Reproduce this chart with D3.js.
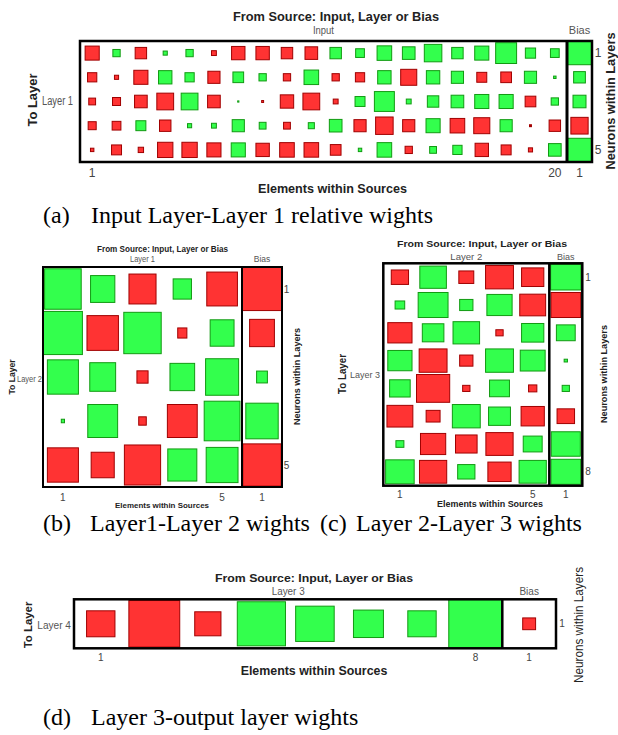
<!DOCTYPE html>
<html>
<head>
<meta charset="utf-8">
<script src="https://cdn.jsdelivr.net/npm/d3@7"></script>
<style>
  body { margin: 0; background: #fff; }
  svg { display: block; }
</style>
</head>
<body>
<svg id="fig" width="618" height="735"></svg>
<script>
// relative weights, sign: + green / - red, magnitude = fraction of cell
// (a) input -> layer 1 : 5 neurons x 20 inputs
const inputToLayer1 = [
  [-0.58, 0.30, -0.47, 0.17, 0.30, -0.20, -0.55, -0.55, -0.47, -0.52, 0.47, 0.36, 0.60, 0.52, 0.72, 0.47, 0.58, 0.86, 0.42, 0.36],
  [-0.38, -0.17, -0.58, 0.55, 0.38, -0.50, 0.44, 0.30, -0.30, 0.60, -0.30, -0.38, 0.55, -0.66, 0.55, 0.50, -0.41, -0.44, 0.50, 0.10],
  [-0.28, -0.33, -0.52, -0.69, 0.69, -0.52, 0.05, -0.08, -0.55, -0.69, -0.20, 0.41, 0.82, 0.20, 0.47, 0.52, 0.58, 0.58, -0.44, 0.30],
  [-0.33, -0.36, 0.41, -0.47, 0.17, 0.20, 0.50, 0.28, -0.28, 0.25, 0.52, -0.50, -0.72, -0.50, 0.58, -0.60, -0.66, 0.50, -0.08, -0.47],
  [-0.14, -0.41, -0.22, -0.63, -0.63, -0.58, 0.58, -0.55, -0.60, -0.60, -0.44, 0.14, 0.60, -0.30, 0.28, 0.38, -0.55, -0.41, -0.17, 0.52]
];
const biasLayer1 = [0.96, 0.47, 0.52, -0.69, 0.96];

// (b) layer 1 -> layer 2 : 5 x 5
const layer1ToLayer2 = [
  [0.92, 0.61, -0.68, 0.46, -0.77],
  [0.98, -0.79, 0.94, -0.23, 0.60],
  [0.78, 0.65, -0.28, 0.62, 0.83],
  [0.08, 0.75, -0.19, -0.75, 0.90],
  [-0.78, -0.58, -0.91, 0.73, 0.80]
];
const biasLayer2 = [-0.98, -0.62, 0.27, 0.81, -0.96];

// (c) layer 2 -> layer 3 : 8 x 5
const layer2ToLayer3 = [
  [-0.52, 0.80, -0.45, -0.84, -0.67],
  [0.29, 0.90, 0.40, 0.76, -0.78],
  [-0.73, 0.65, 0.80, -0.22, 0.67],
  [0.73, -0.84, -0.40, 0.84, 0.75],
  [0.62, -1.00, -0.22, 0.60, -0.25],
  [-0.78, -0.42, 0.84, 0.66, -0.70],
  [0.24, -0.76, -0.65, -0.82, 0.57],
  [0.86, -0.82, 0.52, -0.70, 0.82]
];
const biasLayer3 = [0.92, -0.90, 0.57, 0.10, 0.22, -0.53, 0.88, 0.90];

// (d) layer 3 -> output : 1 x 8
const layer3ToLayer4 = [
  [-0.53, -0.95, -0.49, 0.90, 0.72, 0.56, 0.53, 1.00]
];
const biasLayer4 = [-0.24];

const sourceNames = ["Input", "Layer 1", "Layer 2", "Layer 3"];
const targetNames = ["Layer 1", "Layer 2", "Layer 3", "Layer 4"];
const captionTags = ["(a)", "(b)", "(c)", "(d)"];
const captionTexts = [
  "Input Layer-Layer 1 relative wights",
  "Layer1-Layer 2 wights",
  "Layer 2-Layer 3 wights",
  "Layer 3-output layer wights"
];

const RED = "#ff3333", RED_EDGE = "#a00000";
const GREEN = "#33ff4d", GREEN_EDGE = "#129a12";
const SANS = "'Liberation Sans', Arial, sans-serif";
const SERIF = "'Liberation Serif', 'Times New Roman', serif";

const svg = d3.select("#fig");

function label(g, s, x, y, o) {
  const t = g.append("text")
    .attr("x", x).attr("y", y)
    .attr("font-family", o.family || SANS)
    .attr("font-size", o.size)
    .attr("font-weight", o.bold ? "bold" : "normal")
    .attr("fill", o.fill || "#222")
    .attr("text-anchor", o.anchor || "middle")
    .text(s);
  if (o.len) t.attr("textLength", o.len).attr("lengthAdjust", "spacingAndGlyphs");
  if (o.rotate) t.attr("x", 0).attr("y", 0).attr("transform", `translate(${x},${y}) rotate(-90)`);
  return t;
}

function hinton(p) {
  const g = svg.append("g");
  const nRows = p.weights.length, nCols = p.weights[0].length;

  const x = d3.scaleBand().domain(d3.range(nCols)).range([p.left, p.split]);
  const xb = d3.scaleBand().domain([0]).range([p.split, p.right]);
  const y = d3.scaleBand().domain(d3.range(nRows)).range([p.top, p.bottom]);
  const w = d3.scaleLinear().domain([0, 1]).range([0, x.bandwidth()]);
  const wb = d3.scaleLinear().domain([0, 1]).range([0, xb.bandwidth()]);
  const h = d3.scaleLinear().domain([0, 1]).range([0, y.bandwidth()]);

  const cells = [];
  p.weights.forEach((row, r) => row.forEach((v, c) => {
    cells.push({cx: x(c) + x.bandwidth() / 2, cy: y(r) + y.bandwidth() / 2, w: w(Math.abs(v)), h: h(Math.abs(v)), v});
  }));
  p.bias.forEach((v, r) => {
    cells.push({cx: xb(0) + xb.bandwidth() / 2, cy: y(r) + y.bandwidth() / 2, w: wb(Math.abs(v)), h: h(Math.abs(v)), v});
  });

  g.selectAll("rect.cell")
    .data(cells)
    .enter()
    .append("rect")
    .attr("class", "cell")
    .attr("x", d => d.cx - d.w / 2)
    .attr("y", d => d.cy - d.h / 2)
    .attr("width", d => d.w)
    .attr("height", d => d.h)
    .attr("fill", d => d.v < 0 ? RED : GREEN)
    .attr("stroke", d => d.v < 0 ? RED_EDGE : GREEN_EDGE)
    .attr("stroke-width", 1);

  // frames
  g.append("rect")
    .attr("x", p.left).attr("y", p.top)
    .attr("width", p.right - p.left).attr("height", p.bottom - p.top)
    .attr("fill", "none").attr("stroke", "#000").attr("stroke-width", p.frame);
  g.append("line")
    .attr("x1", p.split).attr("x2", p.split)
    .attr("y1", p.top).attr("y2", p.bottom)
    .attr("stroke", "#000").attr("stroke-width", p.splitW);

  const t = p.text;
  label(g, "From Source: Input, Layer or Bias", t.title[0], t.title[1], {size: t.title[2], bold: true, len: t.title[3]});
  label(g, p.source, (p.left + p.split) / 2, t.srcY, {size: t.srcSize, fill: "#555", len: t.srcLen});
  label(g, "Bias", xb(0) + xb.bandwidth() / 2, t.srcY, {size: t.srcSize, fill: "#555"});
  label(g, "To Layer", t.to[0], t.to[1], {size: t.to[2], bold: true, len: t.to[3], rotate: true});
  label(g, p.target, t.tgt[0], t.tgt[1], {size: t.tgt[2], anchor: "end", fill: "#555", len: t.tgt[3]});
  label(g, "Neurons within Layers", t.neu[0], t.neu[1], {size: t.neu[2], bold: t.neu[4], len: t.neu[3], rotate: true});
  label(g, "Elements within Sources", t.el[0], t.el[1], {size: t.el[2], bold: true, len: t.el[3]});

  // row ticks: first and last neuron
  const rowTicks = nRows > 1 ? [0, nRows - 1] : [0];
  rowTicks.forEach(r => label(g, String(r + 1), t.rowX, y(r) + y.bandwidth() / 2 + t.tick * 0.36,
    {size: t.tick, fill: "#444"}));
  // column ticks: first and last element, bias 1
  [0, nCols - 1].forEach(c => label(g, String(c + 1), x(c) + x.bandwidth() / 2, t.colY, {size: t.tick, fill: "#444"}));
  label(g, "1", xb(0) + xb.bandwidth() / 2, t.colY, {size: t.tick, fill: "#444"});
}

hinton({
  weights: inputToLayer1, bias: biasLayer1, source: sourceNames[0], target: targetNames[0],
  left: 80, split: 567, right: 592, top: 41, bottom: 162, frame: 2.5, splitW: 3,
  text: {
    title: [336, 21, 13, 206], srcY: 34, srcSize: 11, srcLen: 21,
    to: [37, 100, 13, 53], tgt: [73, 105, 12, 31],
    neu: [614.5, 101, 12.5, 137, true], el: [332.5, 193, 12.5, 149],
    rowX: 598, colY: 177, tick: 12
  }
});

hinton({
  weights: layer1ToLayer2, bias: biasLayer2, source: sourceNames[1], target: targetNames[1],
  left: 43, split: 242, right: 282, top: 267, bottom: 487, frame: 2, splitW: 2,
  text: {
    title: [162.5, 252, 9, 131], srcY: 262, srcSize: 8.5, srcLen: 25,
    to: [15, 377, 9, 35], tgt: [42, 382, 9, 25],
    neu: [299.5, 376.5, 9.5, 97, true], el: [162, 508, 7.5, 94],
    rowX: 286.5, colY: 501, tick: 10
  }
});

hinton({
  weights: layer2ToLayer3, bias: biasLayer3, source: sourceNames[2], target: targetNames[2],
  left: 383.3, split: 549.3, right: 582.3, top: 263.3, bottom: 485.7, frame: 2.5, splitW: 2.5,
  text: {
    title: [482, 247, 9, 170], srcY: 260, srcSize: 9, srcLen: 32,
    to: [346.3, 374, 10, 40], tgt: [380, 378, 9.5, 30],
    neu: [607, 374, 9.5, 98, true], el: [490, 507, 8.5, 106],
    rowX: 588, colY: 497.5, tick: 10
  }
});

hinton({
  weights: layer3ToLayer4, bias: biasLayer4, source: sourceNames[3], target: targetNames[3],
  left: 74, split: 502.3, right: 556, top: 599.3, bottom: 648.3, frame: 2.5, splitW: 2.5,
  text: {
    title: [314, 582, 11, 198], srcY: 595, srcSize: 10, srcLen: 33,
    to: [32.3, 625, 11, 46.7], tgt: [71, 628.5, 10, 33.7],
    neu: [582.6, 625, 12, 116, false], el: [314, 675, 12, 146.7],
    rowX: 562, colY: 661, tick: 10
  }
});

// captions
const capPos = [[43, 91, 223], [43, 90, 531], [320, 356, 531], [43, 91, 725]];
capPos.forEach((cp, i) => {
  label(svg, captionTags[i], cp[0], cp[2], {size: 24, family: SERIF, anchor: "start", fill: "#000"});
  label(svg, captionTexts[i], cp[1], cp[2], {size: 24, family: SERIF, anchor: "start", fill: "#000"});
});
</script>
</body>
</html>
